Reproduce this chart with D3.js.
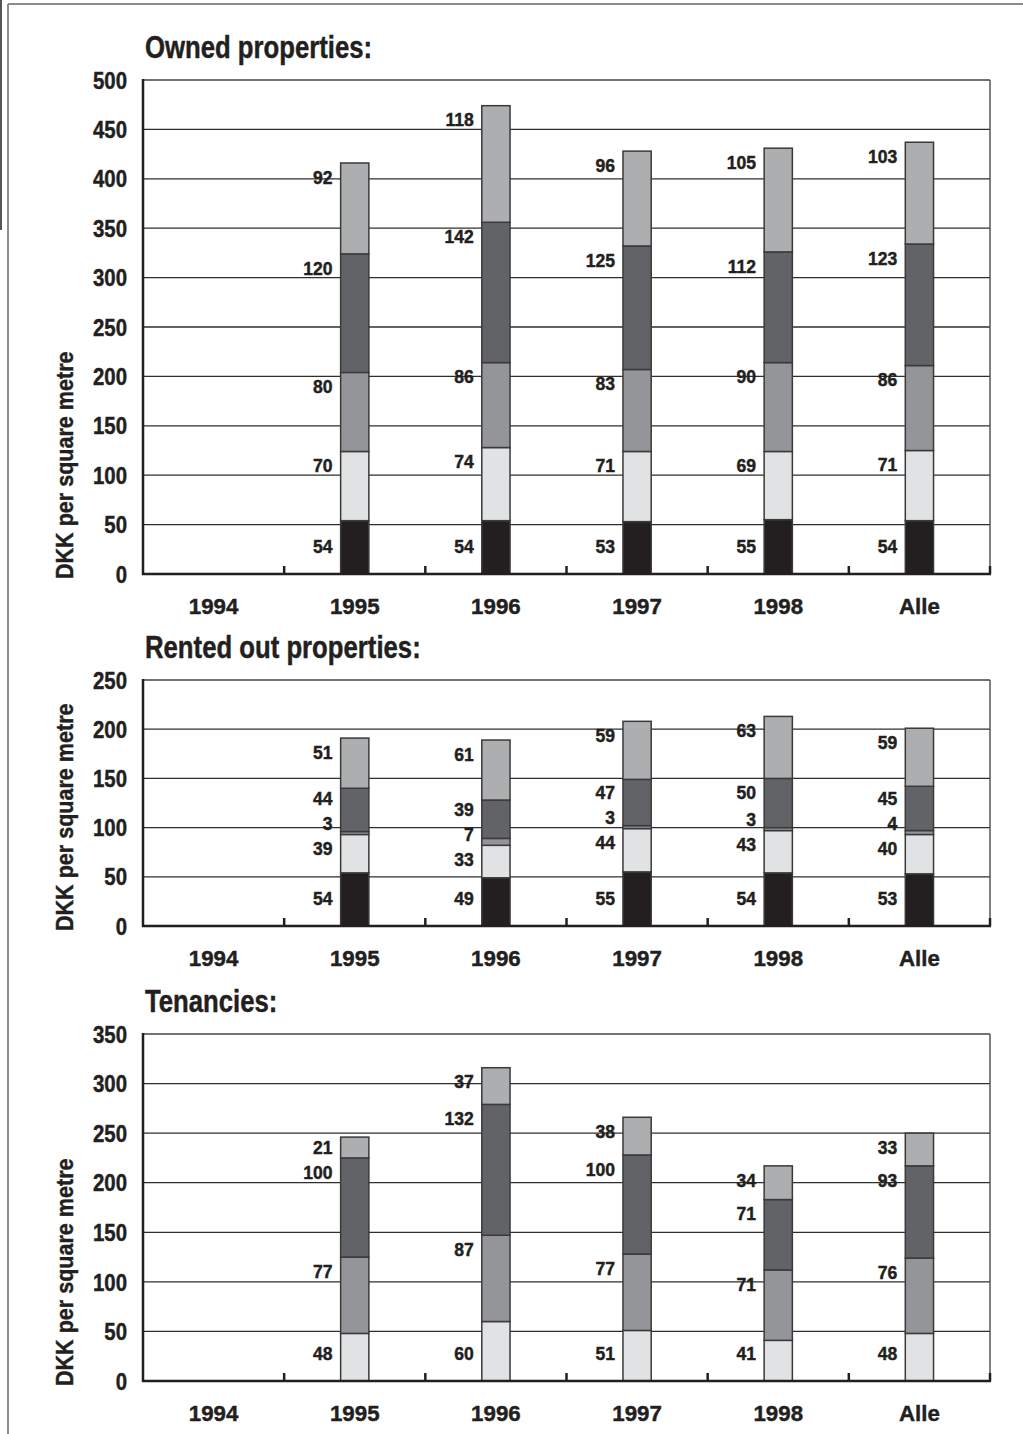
<!DOCTYPE html>
<html>
<head>
<meta charset="utf-8">
<script src="https://cdn.jsdelivr.net/npm/d3@7"></script>
<style>
  html, body { margin: 0; padding: 0; background: #fff; }
  svg { display: block; }
  text { font-family: "Liberation Sans", Arial, sans-serif; font-weight: bold; fill: #231f20;
         stroke: #231f20; stroke-width: 0.45px; }
</style>
</head>
<body>
<script>
// Categories along the x axis
const categories = ["1994", "1995", "1996", "1997", "1998", "Alle"];

// Owned properties, DKK per square metre, stacked bottom to top
const ownedBlack  = [null, 54, 54, 53, 55, 54];
const ownedLight  = [null, 70, 74, 71, 69, 71];
const ownedMedium = [null, 80, 86, 83, 90, 86];
const ownedDark   = [null, 120, 142, 125, 112, 123];
const ownedGrey   = [null, 92, 118, 96, 105, 103];

// Rented out properties
const rentedBlack  = [null, 54, 49, 55, 54, 53];
const rentedLight  = [null, 39, 33, 44, 43, 40];
const rentedMedium = [null, 3, 7, 3, 3, 4];
const rentedDark   = [null, 44, 39, 47, 50, 45];
const rentedGrey   = [null, 51, 61, 59, 63, 59];

// Tenancies
const tenLight  = [null, 48, 60, 51, 41, 48];
const tenMedium = [null, 77, 87, 77, 71, 76];
const tenDark   = [null, 100, 132, 100, 71, 93];
const tenGrey   = [null, 21, 37, 38, 34, 33];

// Y tick values per panel
const ownedTicks  = [0, 50, 100, 150, 200, 250, 300, 350, 400, 450, 500];
const rentedTicks = [0, 50, 100, 150, 200, 250];
const tenTicks    = [0, 50, 100, 150, 200, 250, 300, 350];

const fills = {
  black: "#231f20",
  light: "#e1e2e3",
  medium: "#949598",
  dark: "#626366",
  grey: "#adaeb0"
};

const W = 1023, H = 1434;
const svg = d3.select("body").append("svg").attr("width", W).attr("height", H);

// Text placed at (px, py) and squeezed horizontally to a condensed face
function place(sel, px, py, sx, rot) {
  return sel.attr("transform", (d, i) => {
    const X = typeof px === "function" ? px(d, i) : px;
    const Y = typeof py === "function" ? py(d, i) : py;
    return `translate(${X},${Y})` + (rot ? ` rotate(${rot})` : "") + ` scale(${sx},1)`;
  });
}

// Outer frame
svg.append("line").attr("x1", 8).attr("x2", W).attr("y1", 4).attr("y2", 4)
  .attr("stroke", "#8c8c8c").attr("stroke-width", 2);
svg.append("line").attr("x1", 8).attr("x2", 8).attr("y1", 4).attr("y2", H)
  .attr("stroke", "#8c8c8c").attr("stroke-width", 2);
svg.append("line").attr("x1", 1).attr("x2", 1).attr("y1", 0).attr("y2", 230)
  .attr("stroke", "#555").attr("stroke-width", 2);

const plotLeft = 143, plotRight = 990;
const x = d3.scaleBand().domain(categories).range([plotLeft, plotRight]).paddingInner(0).paddingOuter(0);
const barW = x.bandwidth() * 0.2;

function panel(cfg) {
  const { title, keys, series, ticks, top, bottom } = cfg;
  const yMax = ticks[ticks.length - 1];
  const y = d3.scaleLinear().domain([0, yMax]).range([bottom, top]);
  const g = svg.append("g");

  // Rows for stacking
  const rows = categories.map((c, i) => {
    const r = { cat: c };
    keys.forEach((k, j) => { r[k] = series[j][i]; });
    return r;
  });
  const stacked = d3.stack().keys(keys).value((d, k) => d[k] == null ? 0 : d[k])(rows);

  // Title
  place(g.append("text"), plotLeft + 2, top - 22, 0.83)
    .style("font-size", "31px").text(title);

  // Gridlines
  g.selectAll("line.grid").data(ticks.filter(t => t > 0)).join("line")
    .attr("x1", plotLeft).attr("x2", plotRight)
    .attr("y1", d => y(d)).attr("y2", d => y(d))
    .attr("stroke", d => d === yMax ? "#444" : "#2e2e2e")
    .attr("stroke-width", 1.3);

  // Right border
  g.append("line").attr("x1", plotRight).attr("x2", plotRight)
    .attr("y1", y(yMax)).attr("y2", y(0))
    .attr("stroke", "#555").attr("stroke-width", 1.5);

  // Y tick labels
  place(g.selectAll("text.ytick").data(ticks).join("text"), plotLeft - 16, d => y(d), 0.85)
    .attr("dy", "0.36em")
    .attr("text-anchor", "end").style("font-size", "24px")
    .text(d => d);

  // Y axis title
  place(g.append("text"), 73, y(0) + 5, 0.88, -90)
    .attr("text-anchor", "start").style("font-size", "24.5px")
    .text("DKK per square metre");

  // Value labels: bottom segment at a fixed height, others just under the segment top,
  // pushed apart so neighbours never overlap
  categories.forEach((c, i) => {
    const segs = stacked.map(s => ({ key: s.key, v: rows[i][s.key], y0: s[i][0], y1: s[i][1] }))
      .filter(s => s.v != null && s.v > 0);
    let prev = null;
    segs.forEach((s, j) => {
      let ly = j === 0 ? y(0) - 28 : y(s.y1) + 14;
      if (prev != null && ly > prev - 25) ly = prev - 25;
      s.ly = ly;
      prev = ly;
    });
    place(g.selectAll(null).data(segs).join("text"),
          x(c) + x.bandwidth() / 2 - barW / 2 - 8, d => d.ly, 0.95)
      .attr("dy", "0.36em")
      .attr("text-anchor", "end").style("font-size", "18.5px")
      .text(d => d.v);
  });

  // Bars
  stacked.forEach(s => {
    g.selectAll(null).data(s.filter(d => d[1] - d[0] > 0)).join("rect")
      .attr("x", d => x(d.data.cat) + x.bandwidth() / 2 - barW / 2)
      .attr("width", barW)
      .attr("y", d => y(d[1]))
      .attr("height", d => y(d[0]) - y(d[1]))
      .attr("fill", fills[s.key])
      .attr("stroke", "#3a3a3a").attr("stroke-width", 1.5);
  });

  // Y axis line
  g.append("line").attr("x1", plotLeft).attr("x2", plotLeft)
    .attr("y1", y(yMax) - 1).attr("y2", y(0) + 1)
    .attr("stroke", "#231f20").attr("stroke-width", 2.5);

  // X axis line with boundary ticks
  g.append("line").attr("x1", plotLeft - 1).attr("x2", plotRight + 1)
    .attr("y1", y(0)).attr("y2", y(0))
    .attr("stroke", "#231f20").attr("stroke-width", 2.5);
  const bounds = categories.map(c => x(c)).concat([plotRight]).slice(1);
  g.selectAll(null).data(bounds).join("line")
    .attr("x1", d => d).attr("x2", d => d)
    .attr("y1", y(0)).attr("y2", y(0) - 8)
    .attr("stroke", "#231f20").attr("stroke-width", 2.5);

  // Category labels
  place(g.selectAll(null).data(categories).join("text"),
        d => x(d) + x.bandwidth() / 2, y(0) + 40, 0.97)
    .attr("text-anchor", "middle").style("font-size", "23px")
    .text(d => d);
}

panel({
  title: "Owned properties:",
  keys: ["black", "light", "medium", "dark", "grey"],
  series: [ownedBlack, ownedLight, ownedMedium, ownedDark, ownedGrey],
  ticks: ownedTicks, top: 80, bottom: 574
});
panel({
  title: "Rented out properties:",
  keys: ["black", "light", "medium", "dark", "grey"],
  series: [rentedBlack, rentedLight, rentedMedium, rentedDark, rentedGrey],
  ticks: rentedTicks, top: 680, bottom: 926
});
panel({
  title: "Tenancies:",
  keys: ["light", "medium", "dark", "grey"],
  series: [tenLight, tenMedium, tenDark, tenGrey],
  ticks: tenTicks, top: 1034, bottom: 1381
});
</script>
</body>
</html>
